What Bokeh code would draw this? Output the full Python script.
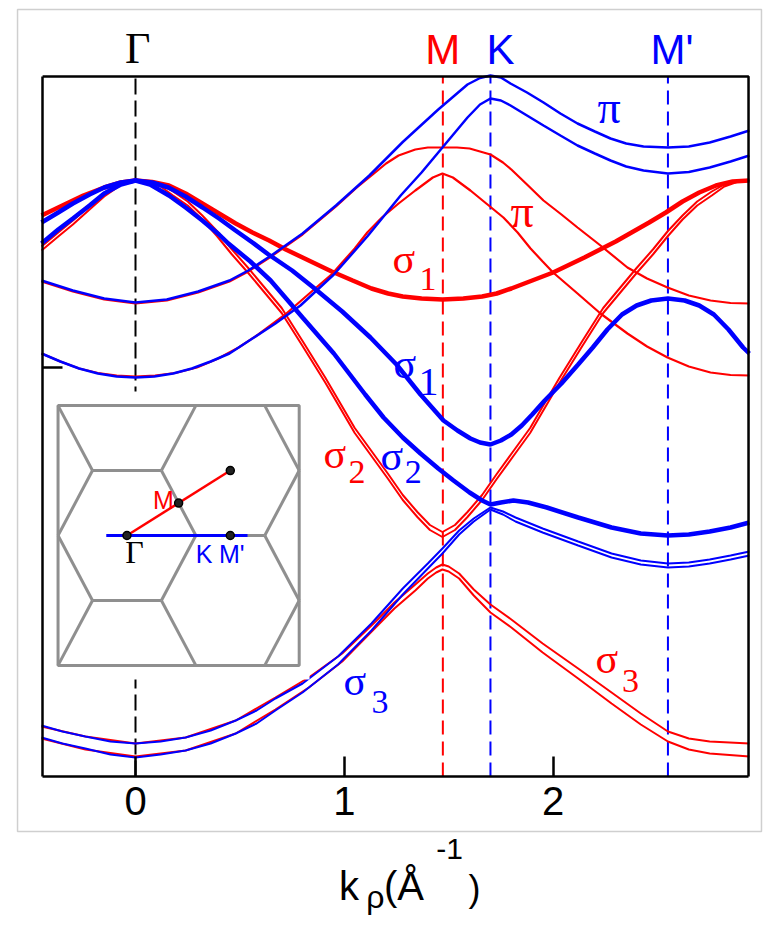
import math
from bokeh.plotting import figure
from bokeh.models import Range1d, FixedTicker, Label
from bokeh.embed import file_html
from bokeh.resources import INLINE

RED = "#ff0000"
BLUE = "#0000ff"
GRAY = "#8f8f8f"
SANS = "Liberation Sans"
SERIF = "Liberation Serif"

# high-symmetry points along the two cuts (1/Å)
sym_k = [0.0, 1.472, 1.700, 2.550]
sym_names = ["Γ", "M", "K", "M'"]
sym_colors = ["black", RED, BLUE, BLUE]
x_ticks = [0, 1, 2]

# ---- Γ-M direction (red) ----
k_rpu = [-0.45, -0.30, -0.15, 0.0, 0.15, 0.30, 0.45, 0.54, 0.65, 0.80, 0.96, 1.06, 1.148, 1.20, 1.26, 1.34, 1.40, 1.47, 1.54, 1.60, 1.70, 1.76, 1.80, 1.88, 1.954, 2.04, 2.117, 2.227, 2.356, 2.45, 2.548, 2.65, 2.754, 2.85, 2.94]
e_rpu = [0.86, 0.76, 0.68, 0.64, 0.67, 0.75, 0.86, 0.96, 1.11, 1.33, 1.61, 1.80, 1.95, 2.04, 2.12, 2.18, 2.20, 2.20, 2.20, 2.19, 2.13, 2.05, 1.98, 1.82, 1.67, 1.53, 1.40, 1.22, 1.00, 0.89, 0.80, 0.72, 0.67, 0.645, 0.64]

k_rpl = [-0.45, -0.36, -0.27, -0.18, -0.09, 0.0, 0.094, 0.19, 0.294, 0.396, 0.494, 0.588, 0.717, 0.827, 0.944, 0.99, 1.05, 1.11, 1.18, 1.26, 1.34, 1.424, 1.47, 1.52, 1.604, 1.68, 1.762, 1.83, 1.892, 1.95, 2.00, 2.117, 2.227, 2.356, 2.45, 2.548, 2.65, 2.754, 2.85, 2.94]
e_rpl = [0.14, 0.06, -0.01, -0.055, -0.08, -0.09, -0.08, -0.055, 0.0, 0.09, 0.20, 0.33, 0.53, 0.73, 0.94, 1.05, 1.19, 1.35, 1.50, 1.64, 1.77, 1.90, 1.94, 1.90, 1.77, 1.64, 1.50, 1.35, 1.19, 1.06, 0.95, 0.74, 0.54, 0.34, 0.21, 0.10, 0.01, -0.05, -0.075, -0.08]

k_rs1 = [-0.45, -0.35, -0.25, -0.15, -0.07, 0.0, 0.08, 0.16, 0.24, 0.32, 0.40, 0.48, 0.56, 0.64, 0.72, 0.80, 0.94, 1.04, 1.13, 1.21, 1.28, 1.37, 1.47, 1.57, 1.66, 1.73, 1.80, 1.90, 2.00, 2.15, 2.30, 2.46, 2.54, 2.62, 2.70, 2.78, 2.86, 2.94]
e_rs1 = [1.52, 1.62, 1.72, 1.80, 1.85, 1.87, 1.855, 1.82, 1.74, 1.64, 1.54, 1.44, 1.35, 1.27, 1.18, 1.10, 0.96, 0.87, 0.79, 0.74, 0.71, 0.69, 0.68, 0.69, 0.71, 0.74, 0.79, 0.87, 0.95, 1.10, 1.26, 1.45, 1.55, 1.66, 1.75, 1.82, 1.86, 1.87]

k_rs2 = [-0.45, -0.37, -0.30, -0.22, -0.15, -0.07, 0.0, 0.06, 0.12, 0.18, 0.25, 0.32, 0.39, 0.46, 0.54, 0.62, 0.70, 0.80, 0.91, 1.05, 1.13, 1.21, 1.28, 1.35, 1.41, 1.47, 1.53, 1.59, 1.66, 1.73, 1.81, 1.89, 2.03, 2.14, 2.24, 2.32, 2.40, 2.48, 2.55, 2.62, 2.69, 2.76, 2.82, 2.88, 2.94]
e_rs2a = [1.21, 1.35, 1.47, 1.62, 1.73, 1.835, 1.87, 1.865, 1.83, 1.76, 1.66, 1.52, 1.365, 1.185, 0.995, 0.795, 0.595, 0.265, -0.105, -0.605, -0.835, -1.065, -1.275, -1.445, -1.575, -1.645, -1.575, -1.445, -1.275, -1.065, -0.835, -0.605, -0.105, 0.265, 0.595, 0.795, 0.995, 1.185, 1.365, 1.52, 1.66, 1.76, 1.83, 1.865, 1.87]
e_rs2b = [1.17, 1.31, 1.43, 1.58, 1.71, 1.825, 1.87, 1.855, 1.81, 1.72, 1.62, 1.48, 1.315, 1.135, 0.945, 0.745, 0.545, 0.215, -0.155, -0.655, -0.885, -1.115, -1.325, -1.495, -1.625, -1.695, -1.625, -1.495, -1.325, -1.115, -0.885, -0.655, -0.155, 0.215, 0.545, 0.745, 0.945, 1.135, 1.315, 1.48, 1.62, 1.72, 1.81, 1.855, 1.87]

k_rs3 = [-0.45, -0.24, 0.0, 0.24, 0.48, 0.67, 0.83, 0.99, 1.15, 1.24, 1.34, 1.40, 1.44, 1.47, 1.50, 1.55, 1.62, 1.70, 1.80, 1.95, 2.12, 2.28, 2.42, 2.55, 2.65, 2.75, 2.94]
e_rs3a = [-3.59, -3.69, -3.76, -3.70, -3.53, -3.30, -3.10, -2.86, -2.54, -2.35, -2.17, -2.06, -2.00, -1.97, -1.99, -2.06, -2.22, -2.37, -2.52, -2.76, -3.01, -3.25, -3.46, -3.64, -3.71, -3.74, -3.76]
e_rs3b = [-3.71, -3.82, -3.89, -3.83, -3.66, -3.42, -3.20, -2.94, -2.60, -2.41, -2.23, -2.11, -2.05, -2.02, -2.04, -2.11, -2.28, -2.45, -2.60, -2.85, -3.11, -3.36, -3.57, -3.74, -3.82, -3.86, -3.89]

# ---- Γ-K-M' direction (blue) ----
k_bpu = [-0.45, -0.30, -0.15, 0.0, 0.15, 0.30, 0.45, 0.54, 0.65, 0.80, 0.96, 1.12, 1.28, 1.45, 1.59, 1.65, 1.70, 1.75, 1.796, 1.875, 1.954, 2.035, 2.117, 2.20, 2.275, 2.35, 2.433, 2.55, 2.65, 2.75, 2.85, 2.94]
e_bpu = [0.87, 0.77, 0.69, 0.65, 0.68, 0.76, 0.87, 0.97, 1.12, 1.34, 1.62, 1.92, 2.255, 2.58, 2.83, 2.895, 2.92, 2.90, 2.84, 2.75, 2.65, 2.54, 2.44, 2.36, 2.29, 2.24, 2.21, 2.20, 2.21, 2.25, 2.31, 2.37]

k_bpl = [-0.45, -0.36, -0.27, -0.18, -0.09, 0.0, 0.09, 0.18, 0.27, 0.36, 0.45, 0.56, 0.67, 0.79, 0.95, 1.11, 1.27, 1.37, 1.47, 1.59, 1.65, 1.70, 1.75, 1.796, 1.875, 1.954, 2.035, 2.117, 2.20, 2.275, 2.35, 2.433, 2.55, 2.65, 2.75, 2.85, 2.94]
e_bpl = [0.14, 0.06, -0.01, -0.06, -0.09, -0.10, -0.09, -0.06, -0.01, 0.06, 0.14, 0.29, 0.44, 0.62, 0.93, 1.31, 1.72, 1.95, 2.20, 2.50, 2.63, 2.69, 2.67, 2.62, 2.52, 2.42, 2.32, 2.22, 2.14, 2.07, 2.01, 1.97, 1.94, 1.955, 2.00, 2.06, 2.12]

k_bs1 = [-0.45, -0.37, -0.30, -0.22, -0.15, -0.07, 0.0, 0.08, 0.158, 0.24, 0.321, 0.40, 0.479, 0.56, 0.637, 0.75, 0.852, 0.99, 1.125, 1.25, 1.365, 1.475, 1.542, 1.604, 1.65, 1.70, 1.75, 1.80, 1.85, 1.90, 1.96, 2.04, 2.12, 2.19, 2.26, 2.33, 2.40, 2.47, 2.55, 2.63, 2.70, 2.77, 2.84, 2.91, 2.94]
e_bs1 = [1.45, 1.55, 1.64, 1.73, 1.80, 1.85, 1.87, 1.85, 1.80, 1.71, 1.60, 1.49, 1.37, 1.25, 1.13, 0.97, 0.80, 0.56, 0.30, 0.03, -0.27, -0.53, -0.63, -0.71, -0.75, -0.77, -0.73, -0.67, -0.58, -0.47, -0.33, -0.16, 0.03, 0.20, 0.38, 0.53, 0.62, 0.67, 0.69, 0.67, 0.62, 0.53, 0.38, 0.20, 0.14]

k_bs2 = [-0.45, -0.37, -0.30, -0.22, -0.15, -0.07, 0.0, 0.07, 0.16, 0.24, 0.32, 0.40, 0.445, 0.55, 0.647, 0.80, 0.95, 1.10, 1.188, 1.28, 1.365, 1.45, 1.523, 1.60, 1.66, 1.70, 1.75, 1.81, 1.88, 1.97, 2.12, 2.28, 2.42, 2.55, 2.65, 2.75, 2.85, 2.94]
e_bs2 = [1.24, 1.38, 1.49, 1.62, 1.74, 1.83, 1.87, 1.83, 1.72, 1.60, 1.47, 1.33, 1.24, 1.06, 0.87, 0.50, 0.14, -0.27, -0.50, -0.70, -0.86, -1.01, -1.13, -1.25, -1.33, -1.37, -1.35, -1.33, -1.35, -1.40, -1.50, -1.60, -1.66, -1.68, -1.67, -1.64, -1.60, -1.55]

k_bs3 = [-0.45, -0.35, -0.24, -0.12, 0.0, 0.12, 0.24, 0.36, 0.48, 0.58, 0.67, 0.80, 0.97, 1.13, 1.28, 1.40, 1.47, 1.55, 1.62, 1.70, 1.76, 1.82, 1.95, 2.12, 2.28, 2.42, 2.55, 2.65, 2.75, 2.85, 2.94]
e_bs3a = [-3.58, -3.64, -3.69, -3.74, -3.76, -3.74, -3.70, -3.63, -3.53, -3.43, -3.31, -3.16, -2.89, -2.56, -2.21, -1.96, -1.81, -1.63, -1.51, -1.40, -1.44, -1.50, -1.61, -1.74, -1.86, -1.93, -1.96, -1.95, -1.92, -1.88, -1.84]
e_bs3b = [-3.70, -3.76, -3.81, -3.87, -3.90, -3.87, -3.83, -3.76, -3.66, -3.56, -3.43, -3.25, -2.97, -2.63, -2.27, -2.01, -1.86, -1.67, -1.54, -1.42, -1.47, -1.54, -1.65, -1.78, -1.90, -1.97, -2.00, -1.99, -1.96, -1.92, -1.88]

# plotting box and the canvas around it (same scale: 208.8 px per 1/Å, 100 px per unit)
X_LO, X_HI = -0.445, 2.936
Y_LO, Y_HI = -4.09, 2.91
C_LEFT, C_RIGHT = -0.6466, 3.0077
C_BOTTOM, C_TOP = -5.59, 3.67

p = figure(width=763, height=926, x_range=Range1d(C_LEFT, C_RIGHT), y_range=Range1d(C_BOTTOM, C_TOP),
           output_backend="svg", toolbar_location=None, title=None,
           min_border_left=0, min_border_right=0, min_border_top=0, min_border_bottom=0)
p.background_fill_color = "white"
p.border_fill_color = "white"
p.grid.grid_line_color = None
p.outline_line_color = None

ax = p.xaxis[0]
ax.fixed_location = Y_LO
ax.bounds = (X_LO, X_HI)
ax.ticker = FixedTicker(ticks=x_ticks)
ax.major_tick_in = 20
ax.major_tick_out = 0
ax.minor_tick_line_color = None
ax.axis_line_width = 2.5
ax.major_tick_line_width = 2.5
ax.major_label_text_font = SANS
ax.major_label_text_font_size = "40px"
ax.major_label_text_color = "black"
ax.major_label_standoff = 10

ay = p.yaxis[0]
ay.fixed_location = X_LO
ay.bounds = (Y_LO, Y_HI)
ay.ticker = FixedTicker(ticks=[0])
ay.major_label_overrides = {0: ""}
ay.major_tick_in = 20
ay.major_tick_out = 0
ay.minor_tick_line_color = None
ay.axis_line_width = 2.5
ay.major_tick_line_width = 2.5

# outer light frame around the panel
p.quad(left=-0.565, right=2.998, bottom=-4.64, top=3.58, fill_color=None,
       line_color="#cfcfcf", line_width=1.5)

# dashed markers at the high-symmetry points
for kk, c in zip(sym_k, sym_colors):
    p.segment(x0=kk, y0=Y_LO, x1=kk, y1=Y_HI, line_color=c, line_width=2,
              line_dash="16 6" if c == "black" else "14 7")

# red bands
p.line(k_rs3, e_rs3a, line_color=RED, line_width=2)
p.line(k_rs3, e_rs3b, line_color=RED, line_width=2)
p.line(k_rpu, e_rpu, line_color=RED, line_width=2.2)
p.line(k_rpl, e_rpl, line_color=RED, line_width=2.2)
p.line(k_rs1, e_rs1, line_color=RED, line_width=4.5)
p.line(k_rs2, e_rs2a, line_color=RED, line_width=2)
p.line(k_rs2, e_rs2b, line_color=RED, line_width=2)

# blue bands
p.line(k_bpu, e_bpu, line_color=BLUE, line_width=2.5)
p.line(k_bpl, e_bpl, line_color=BLUE, line_width=2.5)
p.line(k_bs1, e_bs1, line_color=BLUE, line_width=4.5)
p.line(k_bs2, e_bs2, line_color=BLUE, line_width=4.5)
p.line(k_bs3, e_bs3a, line_color=BLUE, line_width=2)
p.line(k_bs3, e_bs3b, line_color=BLUE, line_width=2)

# top and right sides of the plotting box
p.line([X_LO, X_HI, X_HI], [Y_HI, Y_HI, Y_LO], line_color="black", line_width=2.5)

# ---- inset: Brillouin zones with the two cuts ----
IN_K0, IN_KS = -0.041, 0.330
IN_E0, IN_ES = -1.68, 0.750
S3 = math.sqrt(3)
BOX = (-1.0, 2.5, -S3, S3)

def to_data(u, v):
    return IN_K0 + IN_KS * u, IN_E0 + IN_ES * v

def clip(x0, y0, x1, y1, box):
    xmin, xmax, ymin, ymax = box
    dx, dy = x1 - x0, y1 - y0
    t0, t1 = 0.0, 1.0
    for pp, qq in ((-dx, x0 - xmin), (dx, xmax - x0), (-dy, y0 - ymin), (dy, ymax - y0)):
        if abs(pp) < 1e-12:
            if qq < -1e-9:
                return None
        else:
            t = qq / pp
            if pp < 0:
                t0 = max(t0, t)
            else:
                t1 = min(t1, t)
    if t1 - t0 < 1e-6:
        return None
    return x0 + t0 * dx, y0 + t0 * dy, x0 + t1 * dx, y0 + t1 * dy

edges = set()
for m in range(-2, 5):
    for n in range(-3, 4):
        cx, cy = 1.5 * m, S3 * (n + m / 2)
        pts = [(round(cx + math.cos(math.radians(a)), 5), round(cy + math.sin(math.radians(a)), 5))
               for a in range(0, 360, 60)]
        for i in range(6):
            edges.add(tuple(sorted([pts[i], pts[(i + 1) % 6]])))

hx, hy = [], []
for (a, b) in edges:
    c = clip(a[0], a[1], b[0], b[1], BOX)
    if c is None:
        continue
    (xa, ya), (xb, yb) = to_data(c[0], c[1]), to_data(c[2], c[3])
    hx.append([xa, xb])
    hy.append([ya, yb])

wl, wb = to_data(-1.2, -1.92)
wr, wt = to_data(2.65, 1.92)
p.quad(left=wl, right=wr, bottom=wb, top=wt, fill_color="white", line_color=None)
p.multi_line(hx, hy, line_color=GRAY, line_width=3)
bl, bb = to_data(BOX[0], BOX[2])
br, bt = to_data(BOX[1], BOX[3])
p.quad(left=bl, right=br, bottom=bb, top=bt, fill_color=None, line_color=GRAY, line_width=3)

gm_u = [0.0, 1.5]
gm_v = [0.0, S3 / 2]
gk_u = [-0.3, 1.75]
gk_v = [0.0, 0.0]
p.line(*zip(*[to_data(u, v) for u, v in zip(gm_u, gm_v)]), line_color=RED, line_width=2.5)
p.line(*zip(*[to_data(u, v) for u, v in zip(gk_u, gk_v)]), line_color=BLUE, line_width=3)
dot_u = [0.0, 0.75, 1.5, 1.5]
dot_v = [0.0, S3 / 4, S3 / 2, 0.0]
dk, de = zip(*[to_data(u, v) for u, v in zip(dot_u, dot_v)])
p.scatter(list(dk), list(de), size=8, fill_color="#222222", line_color="black", line_width=1.5)

def label(text, x, y, color, size, font=SANS, align="left"):
    # y is the baseline; the svg text box sits a third of an em low, so lift it
    p.add_layout(Label(x=x, y=y + 0.0034 * size, text=text, text_color=color,
                       text_font_size=f"{size}px", text_font=font, text_align=align,
                       text_baseline="alphabetic"))

lx, ly = to_data(0.11, -0.36)
label("Γ", lx, ly, "black", 32, SERIF, "center")
lx, ly = to_data(1.12, -0.36)
label("K", lx, ly, BLUE, 25, SANS, "center")
lx, ly = to_data(1.52, -0.36)
label("M'", lx, ly, BLUE, 25, SANS, "center")
lx, ly = to_data(0.68, 0.36)
label("M", lx, ly, RED, 25, SANS, "right")

# symmetry point names above the box
for kk, name, c, dx in zip(sym_k, sym_names, sym_colors, [0.01, 0.0, 0.048, 0.02]):
    label(name, kk + dx, 3.04, c, 44 if name == "Γ" else 42, SERIF if name == "Γ" else SANS, "center")

# band labels
def sigma(idx, x, y, xs, ys, color, sub_size=34):
    label("σ", x, y, color, 42, SERIF)
    label(idx, xs, ys, color, sub_size, SERIF)

sigma("1", 1.231, 0.94, 1.36, 0.77, RED)
sigma("1", 1.236, -0.11, 1.355, -0.28, BLUE, 40)
sigma("2", 0.900, -1.01, 1.02, -1.16, RED)
sigma("2", 1.173, -1.03, 1.29, -1.16, BLUE)
sigma("3", 0.996, -3.28, 1.13, -3.46, BLUE)
sigma("3", 2.203, -3.06, 2.33, -3.25, RED)
label("π", 2.213, 2.44, BLUE, 46, SERIF)
label("π", 1.796, 1.40, RED, 46, SERIF)

# axis title k_ρ (Å^-1)
label("k", 0.975, -5.32, "black", 40, SANS)
label("ρ", 1.105, -5.40, "black", 32, SANS)
label("(Å", 1.19, -5.32, "black", 40, SANS)
label("-1", 1.44, -4.92, "black", 30, SANS)
label(")", 1.595, -5.33, "black", 36, SANS)

open("out.html", "w").write(file_html(p, INLINE))
